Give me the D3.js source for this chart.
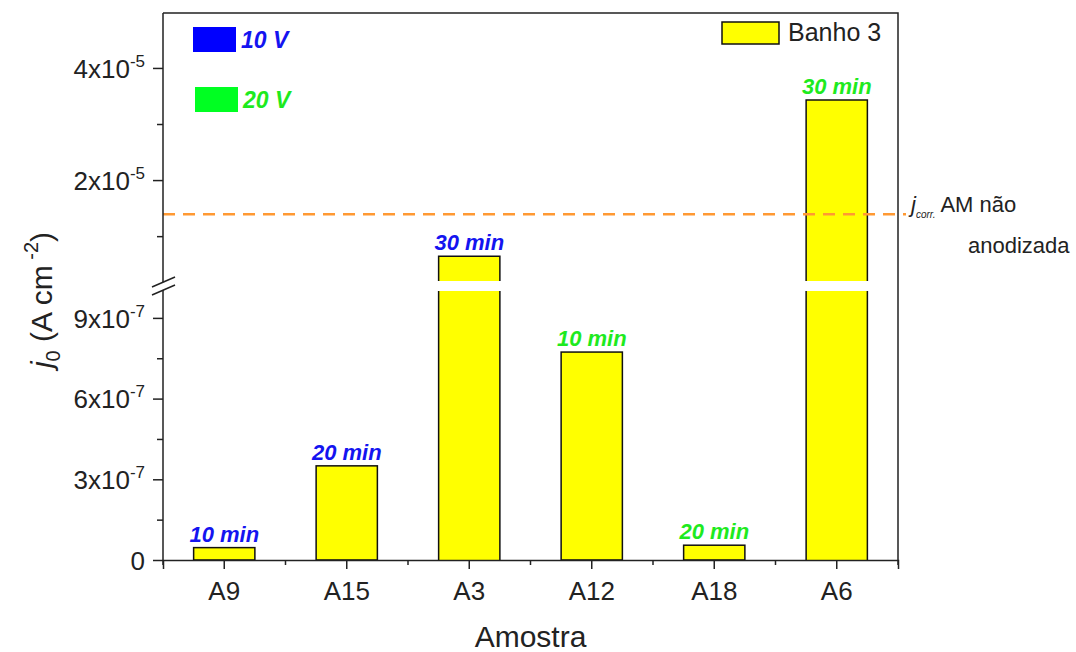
<!DOCTYPE html>
<html><head><meta charset="utf-8">
<script src="https://cdn.jsdelivr.net/npm/d3@7"></script>
<style>
body{margin:0;background:#fff;}
svg{display:block;font-family:"Liberation Sans",Arial,sans-serif;}
</style></head>
<body>
<svg id="c" width="1076" height="652"></svg>
<script>
// ---- data ----
const categories = ["A9","A15","A3","A12","A18","A6"];
const values = [4.6e-8, 3.5e-7, 6.4e-6, 7.73e-7, 5.5e-8, 3.43e-5];
const timeLabels = ["10 min","20 min","30 min","10 min","20 min","30 min"];
const voltageGroup = ["10 V","10 V","10 V","20 V","20 V","20 V"];
const voltageLegend = ["10 V","20 V"];
const seriesName = "Banho 3";
const lowMajorTicks = [0, 3e-7, 6e-7, 9e-7];
const lowMinorTicks = [1.5e-7, 4.5e-7, 7.5e-7];
const highMajorTicks = [2e-5, 4e-5];
const highMinorTicks = [1e-5, 3e-5];
const refValue = 1.39e-5;
const lowDomain = [0, 1e-6];
const highDomain = [2e-6, 4.98e-5];

// ---- layout ----
const L = 163, R = 898, T = 13, B = 560;
const lowTop = 291, highBottom = 281;
const vColor = {"10 V": "#1414f0", "20 V": "#1eea1e"};
const axisColor = "#222";

const svg = d3.select("#c");
const x = d3.scaleBand().domain(categories).range([L, R]).padding(0);
const yLow = d3.scaleLinear().domain(lowDomain).range([B, lowTop]);
const yHigh = d3.scaleLinear().domain(highDomain).range([highBottom, T]);
const barW = x.bandwidth() * 0.5;
const yv = v => v <= lowDomain[1] ? yLow(v) : yHigh(v);

// bars
const bars = svg.append("g");
categories.forEach((c, i) => {
  const v = values[i];
  const x0 = x(c) + (x.bandwidth() - barW) / 2, x1 = x0 + barW;
  if (v <= lowDomain[1]) {
    const yt = yLow(v);
    bars.append("rect").attr("x", x0).attr("y", yt).attr("width", barW).attr("height", B - yt)
      .attr("fill", "#ffff00").attr("stroke", "#111").attr("stroke-width", 1.5);
  } else {
    bars.append("rect").attr("x", x0).attr("y", lowTop).attr("width", barW).attr("height", B - lowTop)
      .attr("fill", "#ffff00");
    bars.append("path").attr("d", `M${x0},${B}V${lowTop}M${x1},${B}V${lowTop}`)
      .attr("stroke", "#111").attr("stroke-width", 1.5).attr("fill", "none");
    const yt = yHigh(v);
    bars.append("rect").attr("x", x0).attr("y", yt).attr("width", barW).attr("height", highBottom - yt)
      .attr("fill", "#ffff00");
    bars.append("path").attr("d", `M${x0},${highBottom}V${yt}H${x1}V${highBottom}`)
      .attr("stroke", "#111").attr("stroke-width", 1.5).attr("fill", "none");
  }
  svg.append("text").attr("x", x(c) + x.bandwidth() / 2).attr("y", yv(v) - 6)
    .attr("text-anchor", "middle").attr("font-size", 22).attr("font-weight", "bold")
    .attr("font-style", "italic").attr("fill", vColor[voltageGroup[i]]).text(timeLabels[i]);
});

// reference line
svg.append("line").attr("x1", L).attr("x2", 906).attr("y1", yHigh(refValue)).attr("y2", yHigh(refValue))
  .attr("stroke", "#ff9933").attr("stroke-width", 2.5).attr("stroke-dasharray", "12,8");

// frame
svg.append("path").attr("d", `M${L},${T}H${R}V${B}`).attr("stroke", axisColor).attr("stroke-width", 1.5).attr("fill", "none");

// tick label formatter with superscript
function labelTicks(g) {
  g.selectAll(".tick text").each(function(d) {
    const t = d3.select(this);
    t.text(null);
    if (d === 0) { t.text("0"); return; }
    const e = Math.floor(Math.log10(d) + 1e-9);
    const m = Math.round(d / Math.pow(10, e));
    t.append("tspan").text(m + "x10");
    t.append("tspan").attr("dy", -11).attr("font-size", 17).text(e);
  });
}
function styleAxis(g) {
  g.select(".domain").remove();
  g.selectAll(".tick line").attr("stroke", axisColor).attr("stroke-width", 1.5);
  g.selectAll(".tick text").attr("fill", "#222").attr("font-size", 26);
}
// y axis lower
const gl = svg.append("g").attr("transform", `translate(${L},0)`)
  .call(d3.axisLeft(yLow).tickValues(lowMajorTicks).tickSize(10).tickPadding(8));
styleAxis(gl); labelTicks(gl);
gl.selectAll(".tick text").attr("dy", "0.36em");
const glm = svg.append("g").attr("transform", `translate(${L},0)`)
  .call(d3.axisLeft(yLow).tickValues(lowMinorTicks).tickSize(6).tickFormat(""));
styleAxis(glm);
// y axis upper
const gh = svg.append("g").attr("transform", `translate(${L},0)`)
  .call(d3.axisLeft(yHigh).tickValues(highMajorTicks).tickSize(10).tickPadding(8));
styleAxis(gh); labelTicks(gh);
gh.selectAll(".tick text").attr("dy", "0.36em");
const ghm = svg.append("g").attr("transform", `translate(${L},0)`)
  .call(d3.axisLeft(yHigh).tickValues(highMinorTicks).tickSize(6).tickFormat(""));
styleAxis(ghm);
// y axis line with break
svg.append("path").attr("d", `M${L},${B}V${lowTop - 1}M${L},${highBottom + 1}V${T}`)
  .attr("stroke", axisColor).attr("stroke-width", 1.5).attr("fill", "none");
[highBottom + 1, lowTop - 1].forEach(yc => {
  svg.append("line").attr("x1", L - 11).attr("x2", L + 12).attr("y1", yc + 5).attr("y2", yc - 5)
    .attr("stroke", axisColor).attr("stroke-width", 1.5);
});

// x axis
const gx = svg.append("g").attr("transform", `translate(0,${B})`)
  .call(d3.axisBottom(x).tickSize(9).tickPadding(13));
gx.select(".domain").attr("stroke", axisColor).attr("stroke-width", 1.5);
gx.selectAll(".tick line").attr("stroke", axisColor).attr("stroke-width", 1.5);
gx.selectAll(".tick text").attr("fill", "#222").attr("font-size", 26);
const bounds = categories.map(c => x(c)).concat([R]);
svg.append("g").selectAll("line").data(bounds).join("line")
  .attr("x1", d => d).attr("x2", d => d).attr("y1", B).attr("y2", B + 5)
  .attr("stroke", axisColor).attr("stroke-width", 1.5);

// axis titles
svg.append("text").attr("x", (L + R) / 2).attr("y", 647).attr("text-anchor", "middle")
  .attr("font-size", 30).attr("fill", "#222").text("Amostra");
const yt = svg.append("text").attr("transform", "translate(52,300) rotate(-90)")
  .attr("text-anchor", "middle").attr("font-size", 30).attr("fill", "#222");
yt.append("tspan").attr("font-style", "italic").text("j");
yt.append("tspan").attr("dy", 8).attr("font-size", 20).text("0");
yt.append("tspan").attr("dy", -8).text(" (A cm");
yt.append("tspan").attr("dy", -14).attr("font-size", 20).text(" -2");
yt.append("tspan").attr("dy", 14).text(")");

// legend: series
svg.append("rect").attr("x", 722).attr("y", 22).attr("width", 57).attr("height", 22)
  .attr("fill", "#ffff00").attr("stroke", "#111").attr("stroke-width", 1.5);
svg.append("text").attr("x", 788).attr("y", 41).attr("font-size", 25).attr("fill", "#222").text(seriesName);

// legend: voltage
voltageLegend.forEach((v, i) => {
  const yy = 27 + i * 60;
  svg.append("rect").attr("x", 193 + i * 2).attr("y", yy).attr("width", 43).attr("height", 25)
    .attr("fill", i === 0 ? "#0000ff" : "#00ff22");
  svg.append("text").attr("x", 241 + i * 2).attr("y", yy + 21).attr("font-size", 23)
    .attr("font-weight", "bold").attr("font-style", "italic").attr("fill", vColor[v]).text(v);
});

// reference annotation
const ra = svg.append("text").attr("x", 911).attr("y", 212).attr("font-size", 22).attr("fill", "#222");
ra.append("tspan").attr("font-style", "italic").text("j");
ra.append("tspan").attr("dy", 6).attr("font-size", 10).attr("font-style", "italic").text("corr.");
ra.append("tspan").attr("dy", -6).text(" AM não");
svg.append("text").attr("x", 968).attr("y", 253).attr("font-size", 22).attr("fill", "#222").text("anodizada");
</script>
</body></html>
